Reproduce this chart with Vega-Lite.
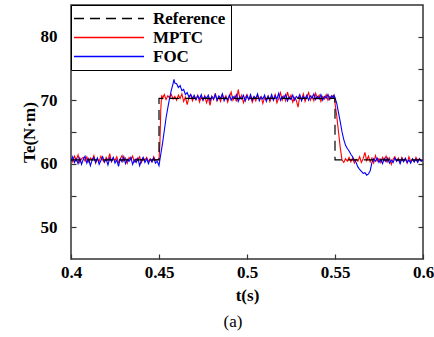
{
  "$schema": "https://vega.github.io/schema/vega-lite/v6.json",
  "width": 352,
  "height": 254,
  "autosize": "none",
  "padding": {"left": 71, "top": 5, "right": 11, "bottom": 78},
  "background": "white",
  "config": {
    "view": {"stroke": "#333333", "strokeWidth": 1.5},
    "font": "Liberation Serif",
    "axis": {"labelFont": "Liberation Serif", "titleFont": "Liberation Serif", "labelFontWeight": 700, "labelFontSize": 17, "labelColor": "black", "titleFontWeight": 700, "titleFontSize": 17, "titleColor": "black", "grid": false, "domain": false, "tickColor": "#333333", "tickWidth": 1.2}
  },
  "title": {"text": "(a)", "orient": "bottom", "fontSize": 17, "fontWeight": "normal", "font": "Liberation Serif", "color": "black", "offset": 11, "dx": -14},
  "datasets": {
    "mptc": [
      {"t":0.400,"v":60.9},{"t":0.401,"v":60.3},{"t":0.402,"v":61.2},{"t":0.403,"v":60.5},{"t":0.404,"v":61.4},{"t":0.405,"v":60.2},{"t":0.406,"v":60.8},{"t":0.407,"v":61.0},{"t":0.408,"v":60.4},{"t":0.409,"v":61.1},
      {"t":0.410,"v":60.3},{"t":0.411,"v":60.9},{"t":0.412,"v":60.6},{"t":0.413,"v":61.3},{"t":0.414,"v":60.1},{"t":0.415,"v":60.8},{"t":0.416,"v":60.4},{"t":0.417,"v":61.2},{"t":0.418,"v":60.6},{"t":0.419,"v":60.2},
      {"t":0.420,"v":61.0},{"t":0.421,"v":60.5},{"t":0.422,"v":61.6},{"t":0.423,"v":60.3},{"t":0.424,"v":60.9},{"t":0.425,"v":60.5},{"t":0.426,"v":61.1},{"t":0.427,"v":60.2},{"t":0.428,"v":60.7},{"t":0.429,"v":61.3},
      {"t":0.430,"v":60.4},{"t":0.431,"v":60.9},{"t":0.432,"v":60.1},{"t":0.433,"v":61.0},{"t":0.434,"v":60.6},{"t":0.435,"v":61.2},{"t":0.436,"v":60.3},{"t":0.437,"v":60.8},{"t":0.438,"v":60.5},{"t":0.439,"v":61.1},
      {"t":0.440,"v":60.2},{"t":0.441,"v":60.9},{"t":0.442,"v":60.6},{"t":0.443,"v":61.0},{"t":0.444,"v":60.4},{"t":0.445,"v":60.8},{"t":0.446,"v":60.3},{"t":0.447,"v":61.1},{"t":0.448,"v":60.5},{"t":0.449,"v":60.7},
      {"t":0.450,"v":60.6},{"t":0.4505,"v":63.0},{"t":0.451,"v":68.5},{"t":0.4515,"v":70.8},
      {"t":0.452,"v":70.3},{"t":0.453,"v":70.9},{"t":0.454,"v":70.1},{"t":0.455,"v":70.7},{"t":0.456,"v":70.4},{"t":0.457,"v":70.9},{"t":0.458,"v":70.2},{"t":0.459,"v":70.6},
      {"t":0.460,"v":70.0},{"t":0.461,"v":70.8},{"t":0.462,"v":70.3},{"t":0.463,"v":71.0},{"t":0.464,"v":69.8},{"t":0.465,"v":70.5},{"t":0.466,"v":69.3},{"t":0.467,"v":70.4},{"t":0.468,"v":70.9},{"t":0.469,"v":69.9},
      {"t":0.470,"v":70.6},{"t":0.471,"v":70.1},{"t":0.472,"v":70.8},{"t":0.473,"v":69.7},{"t":0.474,"v":70.5},{"t":0.475,"v":70.0},{"t":0.476,"v":70.7},{"t":0.477,"v":69.6},{"t":0.478,"v":70.4},{"t":0.479,"v":69.2},
      {"t":0.480,"v":70.6},{"t":0.481,"v":70.1},{"t":0.482,"v":71.1},{"t":0.483,"v":69.9},{"t":0.484,"v":70.5},{"t":0.485,"v":69.8},{"t":0.486,"v":70.9},{"t":0.487,"v":70.2},{"t":0.488,"v":70.7},{"t":0.489,"v":69.7},
      {"t":0.490,"v":70.5},{"t":0.491,"v":71.3},{"t":0.492,"v":70.0},{"t":0.493,"v":70.6},{"t":0.494,"v":69.8},{"t":0.495,"v":71.7},{"t":0.496,"v":70.2},{"t":0.497,"v":70.8},{"t":0.498,"v":69.6},{"t":0.499,"v":70.4},
      {"t":0.500,"v":70.9},{"t":0.501,"v":70.1},{"t":0.502,"v":70.6},{"t":0.503,"v":69.7},{"t":0.504,"v":70.5},{"t":0.505,"v":69.9},{"t":0.506,"v":70.8},{"t":0.507,"v":70.2},{"t":0.508,"v":70.6},{"t":0.509,"v":69.5},
      {"t":0.510,"v":70.4},{"t":0.511,"v":70.0},{"t":0.512,"v":70.7},{"t":0.513,"v":69.8},{"t":0.514,"v":70.5},{"t":0.515,"v":70.1},{"t":0.516,"v":70.9},{"t":0.517,"v":69.6},{"t":0.518,"v":70.3},{"t":0.519,"v":71.2},
      {"t":0.520,"v":70.0},{"t":0.521,"v":70.7},{"t":0.522,"v":69.9},{"t":0.523,"v":71.3},{"t":0.524,"v":70.2},{"t":0.525,"v":70.8},{"t":0.526,"v":69.7},{"t":0.527,"v":70.4},{"t":0.528,"v":70.0},{"t":0.529,"v":68.9},
      {"t":0.530,"v":70.6},{"t":0.531,"v":70.1},{"t":0.532,"v":71.0},{"t":0.533,"v":69.8},{"t":0.534,"v":70.5},{"t":0.535,"v":71.2},{"t":0.536,"v":70.0},{"t":0.537,"v":70.7},{"t":0.538,"v":69.9},{"t":0.539,"v":71.1},
      {"t":0.540,"v":70.3},{"t":0.541,"v":70.8},{"t":0.542,"v":69.8},{"t":0.543,"v":70.6},{"t":0.544,"v":70.2},{"t":0.545,"v":70.9},{"t":0.546,"v":70.0},{"t":0.547,"v":70.6},{"t":0.548,"v":70.3},{"t":0.549,"v":70.8},
      {"t":0.5495,"v":70.6},{"t":0.551,"v":67.5},{"t":0.552,"v":65.0},{"t":0.553,"v":62.5},{"t":0.554,"v":60.6},
      {"t":0.555,"v":60.2},{"t":0.556,"v":60.8},{"t":0.557,"v":60.4},{"t":0.558,"v":61.0},{"t":0.559,"v":60.3},
      {"t":0.560,"v":60.9},{"t":0.561,"v":60.1},{"t":0.562,"v":60.7},{"t":0.563,"v":60.4},{"t":0.564,"v":61.1},{"t":0.565,"v":60.2},{"t":0.566,"v":60.8},{"t":0.567,"v":61.8},{"t":0.568,"v":60.5},{"t":0.569,"v":61.2},
      {"t":0.570,"v":60.3},{"t":0.571,"v":60.9},{"t":0.572,"v":60.1},{"t":0.573,"v":61.3},{"t":0.574,"v":60.4},{"t":0.575,"v":60.8},{"t":0.576,"v":60.2},{"t":0.577,"v":61.0},{"t":0.578,"v":60.5},{"t":0.579,"v":61.2},
      {"t":0.580,"v":60.3},{"t":0.581,"v":60.9},{"t":0.582,"v":59.9},{"t":0.583,"v":60.7},{"t":0.584,"v":61.1},{"t":0.585,"v":60.4},{"t":0.586,"v":60.9},{"t":0.587,"v":60.2},{"t":0.588,"v":61.0},{"t":0.589,"v":60.5},
      {"t":0.590,"v":60.8},{"t":0.591,"v":60.1},{"t":0.592,"v":61.1},{"t":0.593,"v":60.4},{"t":0.594,"v":60.7},{"t":0.595,"v":60.3},{"t":0.596,"v":61.0},{"t":0.597,"v":60.5},{"t":0.598,"v":60.8},{"t":0.599,"v":60.4},{"t":0.600,"v":60.7}
    ],
    "foc": [
      {"t":0.400,"v":60.4},{"t":0.401,"v":61.1},{"t":0.402,"v":60.2},{"t":0.403,"v":60.8},{"t":0.404,"v":60.0},{"t":0.405,"v":60.9},{"t":0.406,"v":59.9},{"t":0.407,"v":60.7},{"t":0.408,"v":61.2},{"t":0.409,"v":60.1},
      {"t":0.410,"v":60.8},{"t":0.411,"v":59.7},{"t":0.412,"v":60.6},{"t":0.413,"v":61.0},{"t":0.414,"v":60.2},{"t":0.415,"v":60.9},{"t":0.416,"v":59.9},{"t":0.417,"v":60.5},{"t":0.418,"v":61.1},{"t":0.419,"v":60.3},
      {"t":0.420,"v":60.7},{"t":0.421,"v":59.8},{"t":0.422,"v":60.9},{"t":0.423,"v":60.4},{"t":0.424,"v":61.0},{"t":0.425,"v":60.1},{"t":0.426,"v":60.6},{"t":0.427,"v":59.6},{"t":0.428,"v":60.8},{"t":0.429,"v":60.3},
      {"t":0.430,"v":61.1},{"t":0.431,"v":60.0},{"t":0.432,"v":60.7},{"t":0.433,"v":60.4},{"t":0.434,"v":61.0},{"t":0.435,"v":59.9},{"t":0.436,"v":60.6},{"t":0.437,"v":60.2},{"t":0.438,"v":60.9},{"t":0.439,"v":59.7},
      {"t":0.440,"v":60.5},{"t":0.441,"v":61.0},{"t":0.442,"v":60.2},{"t":0.443,"v":60.8},{"t":0.444,"v":60.0},{"t":0.445,"v":60.7},{"t":0.446,"v":60.3},{"t":0.447,"v":60.9},{"t":0.448,"v":60.1},{"t":0.449,"v":60.4},
      {"t":0.450,"v":59.7},{"t":0.4505,"v":60.6},{"t":0.451,"v":61.5},{"t":0.452,"v":63.2},{"t":0.453,"v":65.2},{"t":0.454,"v":67.2},{"t":0.455,"v":68.8},{"t":0.456,"v":70.3},{"t":0.457,"v":71.6},{"t":0.458,"v":72.6},{"t":0.4585,"v":73.3},{"t":0.459,"v":72.7},
      {"t":0.460,"v":72.6},{"t":0.461,"v":72.0},{"t":0.462,"v":72.3},{"t":0.463,"v":71.5},{"t":0.464,"v":71.7},{"t":0.465,"v":70.9},{"t":0.466,"v":71.2},{"t":0.467,"v":70.5},{"t":0.468,"v":70.9},{"t":0.469,"v":70.3},
      {"t":0.470,"v":70.8},{"t":0.471,"v":70.1},{"t":0.472,"v":70.7},{"t":0.473,"v":70.2},{"t":0.474,"v":70.9},{"t":0.475,"v":70.0},{"t":0.476,"v":70.6},{"t":0.477,"v":70.3},{"t":0.478,"v":70.8},{"t":0.479,"v":69.9},
      {"t":0.480,"v":70.6},{"t":0.481,"v":70.2},{"t":0.482,"v":70.9},{"t":0.483,"v":70.0},{"t":0.484,"v":70.7},{"t":0.485,"v":70.3},{"t":0.486,"v":71.0},{"t":0.487,"v":69.9},{"t":0.488,"v":70.5},{"t":0.489,"v":70.1},
      {"t":0.490,"v":70.8},{"t":0.491,"v":70.0},{"t":0.492,"v":70.6},{"t":0.493,"v":70.3},{"t":0.494,"v":70.9},{"t":0.495,"v":69.8},{"t":0.496,"v":70.5},{"t":0.497,"v":70.2},{"t":0.498,"v":70.8},{"t":0.499,"v":69.9},
      {"t":0.500,"v":70.7},{"t":0.501,"v":70.1},{"t":0.502,"v":70.9},{"t":0.503,"v":70.0},{"t":0.504,"v":70.6},{"t":0.505,"v":70.3},{"t":0.506,"v":71.0},{"t":0.507,"v":69.9},{"t":0.508,"v":70.5},{"t":0.509,"v":70.2},
      {"t":0.510,"v":70.8},{"t":0.511,"v":69.8},{"t":0.512,"v":70.6},{"t":0.513,"v":70.1},{"t":0.514,"v":70.9},{"t":0.515,"v":70.0},{"t":0.516,"v":70.7},{"t":0.517,"v":70.2},{"t":0.518,"v":71.1},{"t":0.519,"v":70.0},
      {"t":0.520,"v":70.6},{"t":0.521,"v":70.3},{"t":0.522,"v":70.9},{"t":0.523,"v":69.9},{"t":0.524,"v":70.5},{"t":0.525,"v":70.1},{"t":0.526,"v":70.8},{"t":0.527,"v":70.0},{"t":0.528,"v":70.6},{"t":0.529,"v":70.3},
      {"t":0.530,"v":70.9},{"t":0.531,"v":69.9},{"t":0.532,"v":70.6},{"t":0.533,"v":70.2},{"t":0.534,"v":70.8},{"t":0.535,"v":70.0},{"t":0.536,"v":70.7},{"t":0.537,"v":70.3},{"t":0.538,"v":71.0},{"t":0.539,"v":70.1},
      {"t":0.540,"v":70.6},{"t":0.541,"v":70.2},{"t":0.542,"v":70.9},{"t":0.543,"v":70.0},{"t":0.544,"v":70.6},{"t":0.545,"v":70.3},{"t":0.546,"v":70.9},{"t":0.547,"v":70.1},{"t":0.548,"v":70.7},{"t":0.549,"v":70.4},
      {"t":0.5495,"v":70.8},{"t":0.550,"v":70.4},{"t":0.551,"v":69.5},{"t":0.552,"v":68.0},{"t":0.553,"v":66.6},{"t":0.554,"v":65.0},{"t":0.555,"v":63.8},{"t":0.556,"v":62.9},{"t":0.557,"v":62.4},{"t":0.558,"v":62.0},{"t":0.559,"v":61.5},
      {"t":0.560,"v":61.1},{"t":0.561,"v":60.6},{"t":0.562,"v":60.2},{"t":0.563,"v":59.5},{"t":0.564,"v":59.1},{"t":0.565,"v":58.8},{"t":0.566,"v":58.5},{"t":0.567,"v":58.6},{"t":0.568,"v":58.2},{"t":0.569,"v":58.4},
      {"t":0.570,"v":58.9},{"t":0.571,"v":60.2},{"t":0.572,"v":60.8},{"t":0.573,"v":60.4},{"t":0.574,"v":60.9},{"t":0.575,"v":60.2},{"t":0.576,"v":60.7},{"t":0.577,"v":60.0},{"t":0.578,"v":60.8},{"t":0.579,"v":60.3},
      {"t":0.580,"v":60.9},{"t":0.581,"v":60.1},{"t":0.582,"v":60.6},{"t":0.583,"v":60.2},{"t":0.584,"v":60.9},{"t":0.585,"v":60.4},{"t":0.586,"v":60.7},{"t":0.587,"v":60.0},{"t":0.588,"v":60.8},{"t":0.589,"v":60.3},
      {"t":0.590,"v":60.9},{"t":0.591,"v":60.2},{"t":0.592,"v":60.6},{"t":0.593,"v":60.1},{"t":0.594,"v":60.8},{"t":0.595,"v":60.3},{"t":0.596,"v":60.7},{"t":0.597,"v":60.2},{"t":0.598,"v":60.8},{"t":0.599,"v":60.4},{"t":0.600,"v":60.6}
    ],
    "ref": [
      {"t":0.40,"v":60.6},{"t":0.45,"v":60.6},{"t":0.45,"v":70.3},{"t":0.55,"v":70.3},{"t":0.55,"v":60.6},{"t":0.60,"v":60.6}
    ]
  },
  "resolve": {"axis": {"y": "independent"}},
  "layer": [
    {
      "data": {"name": "mptc"},
      "mark": {"type": "line", "strokeWidth": 1.1, "clip": true},
      "encoding": {
        "x": {"field": "t", "type": "quantitative", "scale": {"domain": [0.4, 0.6], "nice": false, "zero": false},
              "axis": {"title": "t(s)", "values": [0.4, 0.45, 0.5, 0.55, 0.6], "format": "~g", "tickSize": -5, "labelPadding": 10, "labelFlush": false, "titlePadding": 7}},
        "y": {"field": "v", "type": "quantitative", "scale": {"domain": [45, 85], "nice": false, "zero": false},
              "axis": {"title": "Te(N·m)", "orient": "left", "values": [50, 55, 60, 65, 70, 75, 80], "labelExpr": "datum.value % 10 === 0 ? datum.label : ''", "tickSize": -5, "labelPadding": 19, "titlePadding": 2}},
        "color": {"datum": "MPTC", "type": "nominal",
                  "scale": {"domain": ["Reference", "MPTC", "FOC"], "range": ["black", "#ff0000", "#0000ff"]},
                  "legend": {"title": null, "orient": "top-left", "offset": 0, "strokeColor": "black", "fillColor": "white", "padding": 5,
                             "labelFont": "Liberation Serif", "labelFontWeight": 700, "labelFontSize": 17, "labelColor": "black",
                             "symbolType": "M-3,0H17", "symbolSize": 49, "symbolStrokeWidth": 1.5, "labelOffset": 60, "rowPadding": 1,
                             "encode": {"symbols": {"update": {"strokeDash": {"signal": "datum.value === 'Reference' ? [10,6] : [1,0]"}}}}}}
      }
    },
    {
      "data": {"name": "foc"},
      "mark": {"type": "line", "strokeWidth": 1.1, "clip": true},
      "encoding": {
        "x": {"field": "t", "type": "quantitative"},
        "y": {"field": "v", "type": "quantitative",
              "axis": {"title": null, "orient": "right", "values": [50, 55, 60, 65, 70, 75, 80], "labels": false, "tickSize": -5}},
        "color": {"datum": "FOC", "type": "nominal"}
      }
    },
    {
      "data": {"name": "ref"},
      "mark": {"type": "line", "strokeWidth": 1.2, "strokeDash": [10, 6], "clip": true},
      "encoding": {
        "x": {"field": "t", "type": "quantitative"},
        "y": {"field": "v", "type": "quantitative", "axis": null},
        "color": {"datum": "Reference", "type": "nominal"}
      }
    }
  ]
}
